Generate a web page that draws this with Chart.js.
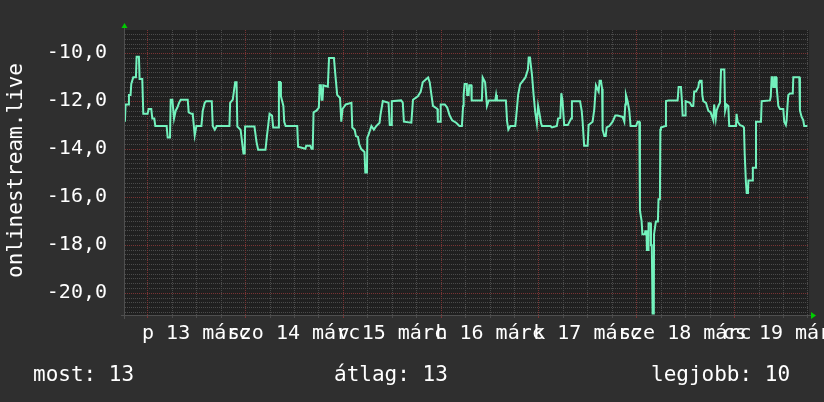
<!DOCTYPE html>
<html>
<head>
<meta charset="utf-8">
<script src="https://cdn.jsdelivr.net/npm/chart.js@4/dist/chart.umd.min.js"></script>
<style>
  html, body { margin: 0; padding: 0; background: #2f2f2f; }
  #wrap { width: 824px; height: 402px; }
</style>
</head>
<body>
<div id="wrap"><canvas id="graph" width="824" height="402"></canvas></div>
<script>
// -------------------------
// DATA (hours from 13 márc 00:00)
// -------------------------
const hours = [
  -5.49, -5.33, -4.67, -4.5, -4.1, -3.93, -3.44, -2.79, -2.62, -2.05,
  -1.89, -1.23, -0.98, 0.08, 0.33, 0.98, 1.23, 1.72, 1.97, 4.75,
  5.0, 5.57, 5.74, 6.15, 6.56, 6.97, 7.38, 7.79, 8.2, 9.92,
  10.16, 10.82, 11.15, 11.64, 12.05, 13.28, 13.61, 14.1, 14.43, 15.82,
  16.07, 16.56, 17.05, 20.16, 20.33, 20.98, 21.56, 21.9, 22.1, 22.9,
  23.6, 23.9, 24.0, 26.3, 26.8, 27.2, 29.0, 29.4, 30.0, 30.6,
  30.9, 32.1, 32.3, 32.6, 32.8, 33.4, 33.6, 33.95, 36.8, 37.0,
  38.8, 39.0, 40.0, 40.3, 40.6, 40.8, 41.5, 42.1, 42.3, 42.6,
  42.8, 43.0, 43.2, 44.3, 44.6, 45.8, 46.2, 46.6, 47.3, 47.6,
  47.9, 48.7, 50.1, 50.3, 50.9, 51.2, 51.7, 52.0, 52.5, 53.3,
  53.5, 53.9, 54.0, 54.3, 55.0, 55.6, 56.2, 57.0, 57.2, 57.8,
  59.2, 59.5, 59.9, 60.0, 62.3, 62.7, 62.97, 64.8, 65.2, 66.4,
  67.1, 67.6, 68.9, 69.3, 70.1, 71.2, 71.3, 71.9, 72.0, 73.0,
  73.6, 74.2, 74.8, 75.8, 76.6, 77.2, 77.5, 77.63, 77.87, 78.4,
  78.5, 78.85, 79.0, 79.5, 79.6, 82.1, 82.3, 82.9, 83.35, 83.8,
  85.4, 85.6, 85.8, 88.0, 88.3, 88.6, 89.1, 90.3, 90.7, 91.0,
  91.5, 92.8, 93.4, 93.6, 93.9, 94.4, 94.8, 95.2, 95.6, 95.9,
  96.2, 96.6, 96.85, 98.9, 99.3, 100.5, 100.8, 101.35, 101.6, 101.9,
  102.3, 103.2, 104.0, 104.2, 106.2, 106.6, 106.83, 107.2, 108.06, 108.3,
  109.28, 109.69, 110.1, 110.76, 111.0, 111.33, 111.6, 111.74, 112.15, 112.5,
  112.72, 113.37, 114.19, 114.85, 115.42, 116.65, 117.06, 117.3, 117.46, 117.87,
  118.28, 118.6, 119.92, 120.33, 120.74, 120.9, 121.3, 121.5, 122.1, 122.2,
  122.5, 122.6, 122.9, 123.0, 123.5, 123.6, 123.8, 124.0, 124.3, 124.35,
  124.8, 125.3, 125.45, 125.8, 125.9, 126.05, 127.12, 127.28, 127.93, 130.14,
  130.39, 130.96, 131.2, 131.37, 132.0, 132.1, 133.17, 133.58, 133.99, 134.2,
  134.64, 135.22, 135.4, 135.62, 136.03, 136.2, 136.44, 137.1, 137.67, 138.24,
  138.9, 139.1, 139.3, 139.5, 139.71, 140.12, 140.53, 140.8, 141.6, 141.8,
  142.17, 142.58, 142.8, 144.46, 144.6, 144.87, 145.44, 146.09, 146.42, 146.6,
  146.9, 147.1, 147.4, 147.5, 148.4, 148.6, 149.2, 149.37, 150.6, 150.76,
  152.8, 153.0, 153.21, 153.5, 153.62, 153.9, 154.03, 154.3, 154.44, 154.85,
  155.26, 156.07, 156.3, 156.7, 156.89, 157.1, 157.3, 157.71, 158.4, 158.53,
  160.0, 160.16, 160.57, 160.98, 161.2, 161.96
];

const values = [
  -12.86, -12.14, -12.14, -11.74, -11.74, -11.28, -11.0, -11.0, -10.15, -10.15,
  -11.08, -11.08, -12.53, -12.53, -12.33, -12.33, -12.73, -12.73, -13.04, -13.04,
  -13.52, -13.52, -11.94, -11.94, -12.73, -12.4, -12.27, -12.07, -11.94, -11.94,
  -12.47, -12.53, -12.53, -13.43, -13.04, -13.04, -12.4, -12.07, -12.0, -12.0,
  -13.04, -13.19, -13.04, -13.04, -12.07, -11.94, -11.21, -11.21, -13.06, -13.2,
  -14.19, -14.19, -13.06, -13.06, -13.7, -14.03, -14.03, -13.4, -12.53, -12.6,
  -13.1, -13.1, -11.2, -11.2, -11.8, -12.2, -12.86, -13.04, -13.04, -13.9,
  -13.99, -13.86, -13.86, -13.99, -13.99, -12.47, -12.4, -12.27, -11.34, -11.34,
  -11.94, -11.94, -11.34, -11.4, -10.2, -10.2, -11.0, -11.74, -11.87, -12.86,
  -12.33, -12.14, -12.07, -13.1, -13.2, -13.46, -13.5, -13.8, -14.0, -14.12,
  -14.98, -14.98, -13.52, -13.4, -13.04, -13.19, -13.04, -12.9, -12.6, -12.0,
  -12.07, -13.0, -13.0, -12.0, -11.97, -12.07, -12.86, -12.9, -11.94, -11.8,
  -11.6, -11.21, -11.01, -11.21, -12.2, -12.33, -12.86, -12.86, -12.14, -12.14,
  -12.27, -12.6, -12.8, -12.9, -13.04, -13.04, -12.2, -11.74, -11.28, -11.28,
  -11.74, -11.74, -11.34, -11.34, -11.97, -11.97, -11.01, -11.21, -12.2, -11.97,
  -11.97, -11.74, -11.97, -11.97, -12.86, -13.19, -13.04, -13.04, -12.33, -11.74,
  -11.3, -11.01, -10.68, -10.18, -10.18, -10.9, -11.74, -12.47, -12.93, -12.2,
  -12.47, -12.9, -13.04, -13.04, -13.1, -13.04, -12.73, -12.7, -11.67, -12.0,
  -13.0, -13.0, -12.73, -12.0, -12.0, -12.4, -12.86, -13.86, -13.86, -13.0,
  -12.86, -12.33, -11.34, -11.6, -11.15, -11.15, -11.48, -13.19, -13.46, -13.46,
  -13.1, -13.04, -12.86, -12.6, -12.6, -12.66, -12.86, -12.14, -11.74, -12.0,
  -12.4, -13.04, -13.04, -12.86, -12.86, -16.57, -17.0, -17.56, -17.56, -17.43,
  -17.43, -18.22, -18.22, -17.1, -17.1, -18.02, -18.02, -20.87, -20.87, -17.56,
  -17.03, -17.03, -16.1, -16.1, -13.2, -13.1, -13.04, -12.0, -11.97, -11.97,
  -11.41, -11.41, -12.0, -12.6, -12.6, -12.0, -12.07, -12.2, -12.2, -11.6,
  -11.6, -11.41, -11.21, -11.15, -11.15, -11.74, -12.0, -12.07, -12.4, -12.47,
  -12.8, -12.14, -12.14, -12.73, -12.4, -12.2, -12.07, -10.68, -10.68, -12.4,
  -12.14, -12.2, -13.04, -13.04, -12.53, -12.86, -13.0, -13.04, -13.1, -14.2,
  -15.4, -15.84, -15.84, -15.31, -15.31, -14.78, -14.78, -12.86, -12.86, -12.0,
  -11.97, -11.8, -11.0, -11.0, -11.41, -11.41, -11.0, -11.0, -11.41, -12.2,
  -12.33, -12.33, -12.86, -13.0, -12.8, -12.2, -11.74, -11.68, -11.68, -11.0,
  -11.0, -12.4, -12.66, -12.8, -13.04, -13.04
];

const yTicks = [-20, -18, -16, -14, -12, -10];
const dayCenters = [12, 36, 60, 84, 108, 132, 156];
const dayLabels = ["p 13 márc", "szo 14 márc", "v 15 márc", "h 16 márc",
                   "k 17 márc", "sze 18 márc", "cs 19 márc"];
const yTitle = "onlinestream.live";
const statNames = ["most", "átlag", "legjobb"];
const statValues = [13, 13, 10];

// -------------------------
// STYLE
// -------------------------
const CANVAS_BG = "#2f2f2f";
const PLOT_BG = "#202020";
const GRID_MINOR = "#4b4b4b";
const GRID_MAJOR = "#7a3434";
const AXIS_COLOR = "#4f4f4f";
const ARROW_COLOR = "#00cc00";
const LINE_COLOR = "#73f2bd";
const TEXT_COLOR = "#ffffff";
const MONO = "'DejaVu Sans Mono', monospace";

const Y_MINOR = 0.2;
const Y_MAJOR = 2;
const X_MINOR = 6;
const X_MAJOR = 24;

// -------------------------
// DRAW HELPERS
// -------------------------
// dotted lines drawn pixel by pixel, one on / one off
function dotsH(ctx, x0, x1, y) {
  for (let px = x0; px <= x1; px += 2) ctx.fillRect(px, y, 1, 1);
}

function dotsV(ctx, x, y0, y1) {
  for (let py = y0; py <= y1; py += 2) ctx.fillRect(x, py, 1, 1);
}

function drawBackdrop(chart) {
  const { ctx, chartArea: a, scales: { x, y } } = chart;
  const left = Math.round(a.left), right = Math.round(a.right);
  const top = Math.round(a.top), bottom = Math.round(a.bottom);
  ctx.save();
  ctx.fillStyle = PLOT_BG;
  ctx.fillRect(left, top, right - left, bottom - top);

  // horizontal grid
  for (let k = Math.ceil(y.min / Y_MINOR); k * Y_MINOR <= y.max; k++) {
    const v = k * Y_MINOR;
    const major = Math.abs(v / Y_MAJOR - Math.round(v / Y_MAJOR)) < 1e-6;
    ctx.fillStyle = major ? GRID_MAJOR : GRID_MINOR;
    dotsH(ctx, left, right - 1, Math.round(y.getPixelForValue(v)));
  }

  // vertical grid
  for (let h = Math.ceil(x.min / X_MINOR) * X_MINOR; h <= x.max; h += X_MINOR) {
    const major = Math.round(h) % X_MAJOR === 0;
    ctx.fillStyle = major ? GRID_MAJOR : GRID_MINOR;
    const px = Math.round(x.getPixelForValue(h));
    dotsV(ctx, px, top, bottom - 1);
    ctx.fillRect(px, bottom, 1, 3);
  }

  // axes
  ctx.fillStyle = AXIS_COLOR;
  ctx.fillRect(left - 4, bottom, right - left + 6, 1);
  ctx.fillRect(left - 1, top - 2, 1, bottom - top + 6);

  // arrows
  ctx.fillStyle = ARROW_COLOR;
  ctx.beginPath();
  ctx.moveTo(right + 2, bottom - 3);
  ctx.lineTo(right + 7, bottom + 0.5);
  ctx.lineTo(right + 2, bottom + 4);
  ctx.fill();
  ctx.beginPath();
  ctx.moveTo(left - 3.5, top - 2);
  ctx.lineTo(left - 0.5, top - 7);
  ctx.lineTo(left + 2.5, top - 2);
  ctx.fill();
  ctx.restore();
}

function drawTexts(chart) {
  const { ctx, chartArea: a, scales: { x } } = chart;
  ctx.save();
  ctx.fillStyle = TEXT_COLOR;

  // day labels (they overlap, like the original)
  ctx.font = "20px " + MONO;
  ctx.textAlign = "center";
  ctx.textBaseline = "alphabetic";
  dayLabels.forEach((label, i) => {
    ctx.fillText(label, x.getPixelForValue(dayCenters[i]), 338.5);
  });

  // vertical title
  ctx.font = "21px " + MONO;
  ctx.save();
  ctx.translate(22, (a.top + a.bottom) / 2 - 2);
  ctx.rotate(-Math.PI / 2);
  ctx.fillText(yTitle, 0, 0);
  ctx.restore();

  // stats line
  ctx.textAlign = "left";
  const statX = [33, 334, 651];
  statNames.forEach((name, i) => {
    ctx.fillText(name + ": " + statValues[i], statX[i], 381);
  });
  ctx.restore();
}

const rrdLook = {
  id: "rrdLook",
  beforeDraw(chart) {
    const { ctx, width, height } = chart;
    ctx.save();
    ctx.fillStyle = CANVAS_BG;
    ctx.fillRect(0, 0, width, height);
    ctx.restore();
  },
  beforeDatasetsDraw(chart) {
    drawBackdrop(chart);
  },
  afterDraw(chart) {
    drawTexts(chart);
  }
};

// -------------------------
// INIT CHART
// -------------------------
function initChart() {
  const ctx = document.getElementById("graph").getContext("2d");

  return new Chart(ctx, {
    type: "line",
    data: {
      datasets: [{
        data: hours.map((h, i) => ({ x: h, y: values[i] })),
        borderColor: LINE_COLOR,
        borderWidth: 2,
        pointRadius: 0,
        tension: 0,
        fill: false
      }]
    },
    options: {
      responsive: false,
      animation: false,
      devicePixelRatio: 1,
      layout: { padding: { left: 0, top: 15, right: 15, bottom: 87 } },
      plugins: {
        legend: { display: false },
        tooltip: { enabled: false }
      },
      scales: {
        x: {
          type: "linear",
          min: -5.47,
          max: 162.38,
          display: false
        },
        y: {
          type: "linear",
          min: -20.93,
          max: -9.03,
          afterFit: s => { s.width = 125; },
          afterBuildTicks: s => { s.ticks = yTicks.map(v => ({ value: v })); },
          grid: { display: false, drawTicks: false },
          border: { display: false },
          ticks: {
            color: TEXT_COLOR,
            padding: 18,
            font: { family: "DejaVu Sans Mono", size: 20 },
            callback: v => v.toFixed(1).replace(".", ",")
          }
        }
      }
    },
    plugins: [rrdLook]
  });
}

initChart();
</script>
</body>
</html>
